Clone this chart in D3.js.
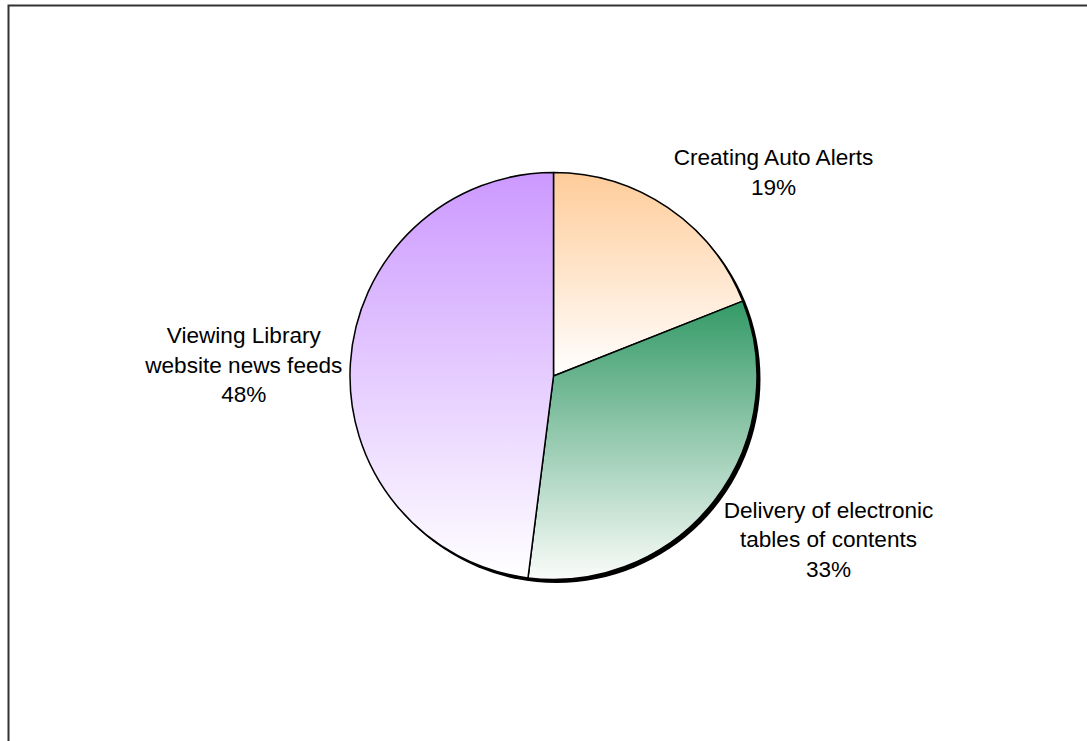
<!DOCTYPE html>
<html>
<head>
<meta charset="utf-8">
<script src="https://cdn.jsdelivr.net/npm/d3@7"></script>
<style>
  html, body { margin: 0; padding: 0; background: #ffffff; }
  svg { display: block; }
  text { font-family: Arial, "Liberation Sans", sans-serif; fill: #000; }
</style>
</head>
<body>
<svg id="chart" width="1087" height="741"></svg>
<script>
// Share of alert usage by type
const categories = ["Creating Auto Alerts", "Delivery of electronic tables of contents", "Viewing Library website news feeds"];
const labelLines = [
  ["Creating Auto Alerts", "19%"],
  ["Delivery of electronic", "tables of contents", "33%"],
  ["Viewing Library", "website news feeds", "48%"]
];
const values = [19, 33, 48];
const topColors = ["#FFCC99", "#339966", "#CC99FF"];
const bottomColors = ["#FFFFFF", "#FAFCFA", "#FFFFFF"];

const width = 1087, height = 741;
const cx = 553.5, cy = 376, radius = 203.5;

const svg = d3.select("#chart");

// outer frame (top and left edges visible)
svg.append("rect")
  .attr("x", 8.5).attr("y", 5.5)
  .attr("width", 1200).attr("height", 900)
  .attr("fill", "none")
  .attr("stroke", "#333")
  .attr("stroke-width", 2);

const defs = svg.append("defs");
categories.forEach((c, i) => {
  const g = defs.append("linearGradient")
    .attr("id", "grad" + i)
    .attr("x1", 0).attr("y1", 0).attr("x2", 0).attr("y2", 1);
  g.append("stop").attr("offset", "0%").attr("stop-color", topColors[i]);
  g.append("stop").attr("offset", "100%").attr("stop-color", bottomColors[i]);
});

const pie = d3.pie().sort(null).value(d => d);
const arcs = pie(values);
const arc = d3.arc().innerRadius(0).outerRadius(radius);

const g = svg.append("g").attr("transform", `translate(${cx},${cy})`);

// drop shadow behind the disc
g.append("circle")
  .attr("cx", 3).attr("cy", 3)
  .attr("r", radius + 0.5)
  .attr("fill", "#000");

g.selectAll("path.slice")
  .data(arcs)
  .join("path")
  .attr("class", "slice")
  .attr("d", arc)
  .attr("fill", (d, i) => `url(#grad${i})`)
  .attr("stroke", "#000")
  .attr("stroke-width", 1.5)
  .attr("stroke-linejoin", "round");

// labels
const labelPos = [
  { x: 773.5, y: 165 },
  { x: 828.5, y: 517.5 },
  { x: 243.8, y: 343 }
];
const lineGap = 29.5;

labelLines.forEach((lines, i) => {
  const t = svg.append("text")
    .attr("text-anchor", "middle")
    .attr("font-size", 22.6)
    .attr("x", labelPos[i].x)
    .attr("y", labelPos[i].y);
  lines.forEach((ln, j) => {
    t.append("tspan")
      .attr("x", labelPos[i].x)
      .attr("dy", j === 0 ? 0 : lineGap)
      .text(ln);
  });
});
</script>
</body>
</html>
